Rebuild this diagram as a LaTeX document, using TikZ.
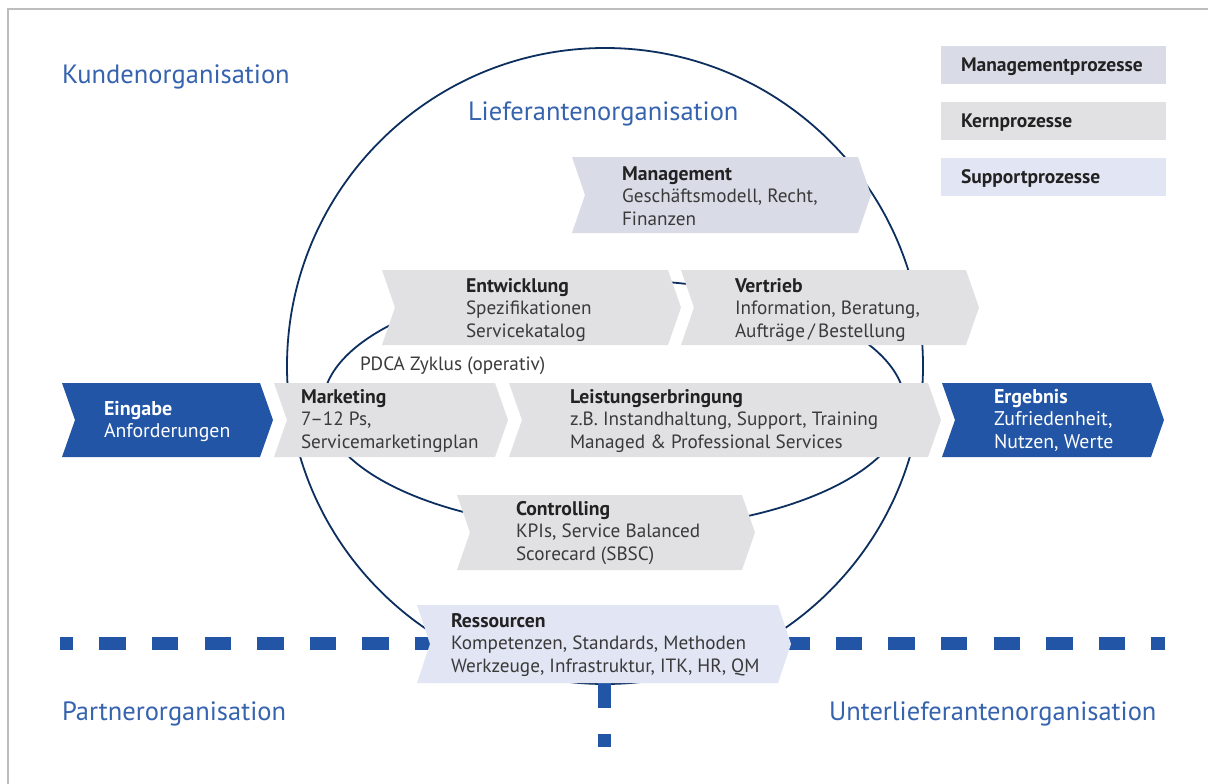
\documentclass[tikz,border=0pt]{standalone}
\usepackage{fontspec}
\setmainfont{PT Sans}
\definecolor{kblue}{HTML}{2255A5}
\definecolor{ttlblue}{HTML}{3563AE}
\definecolor{navy}{HTML}{0C2F5F}
\definecolor{mgmtc}{HTML}{D9DCE7}
\definecolor{kernc}{HTML}{E1E1E3}
\definecolor{suppc}{HTML}{E2E5F4}
\definecolor{framec}{HTML}{BDBDBD}
\definecolor{bodyc}{HTML}{3A3A3A}
\definecolor{headc}{HTML}{222222}
% chevron: left x, top-right x, top y, bottom y, fill colour
\newcommand\chevbox[5]{%
  \fill[#5] (#1,#3) -- (#2,#3) -- ({#2+13},{(#3+#4)/2}) -- (#2,#4) -- (#1,#4)
    -- ({#1+13},{(#3+#4)/2}) -- cycle;}
\newcommand\lines[1]{\begin{tabular}[t]{@{}l@{}}#1\end{tabular}}
\newcommand\hd[1]{{\fontsize{19.7}{22.6}\selectfont\bfseries\color{headc}#1}}
\newcommand\whd[1]{{\fontsize{20}{22.6}\selectfont\bfseries #1}}
\begin{document}
\begin{tikzpicture}[x=1pt,y=-1pt,
  every node/.style={inner sep=0pt,outer sep=0pt},
  boxtext/.style={anchor=base west,font=\fontsize{19.2}{22.6}\selectfont,text=bodyc},
  whitetext/.style={anchor=base west,font=\fontsize{19.8}{22.6}\selectfont,text=white},
  title/.style={anchor=base west,font=\fontsize{26.5}{30}\selectfont,text=ttlblue},
  legend/.style={anchor=base west,font=\fontsize{19.5}{22}\selectfont\bfseries,text=headc},
  orbit/.style={draw=navy,line width=1.8pt},
  divider/.style={draw=kblue,line width=13pt,dash pattern=on 26.3pt off 26.3pt,dash phase=13.15pt},
]
\useasboundingbox (0,0) rectangle (1208,784);
\fill[white] (0,0) rectangle (1208,784);
% frame
\draw[framec,line width=2pt] (8,784) -- (8,9) -- (1208,9);

% supplier organisation and PDCA cycle
\draw[orbit] (605,366) circle[radius=318pt];
\draw[orbit] (614,405) ellipse[x radius=291pt,y radius=125pt];

% organisation borders
\draw[divider] (60,643.5) -- (1165,643.5);
\draw[divider] (604.5,747) -- (604.5,643.5);

% process chevrons
\chevbox{572}{858}{157}{233}{mgmtc}
\chevbox{382}{668}{270}{345}{kernc}
\chevbox{681}{966}{270}{345}{kernc}
\chevbox{62}{260}{383}{457}{kblue}
\chevbox{274}{495}{383}{457}{kernc}
\chevbox{509}{928}{383}{457}{kernc}
\chevbox{942}{1151}{383}{457}{kblue}
\chevbox{457}{742}{495}{570}{kernc}
\chevbox{417}{778}{605}{683}{suppc}

% legend
\fill[mgmtc] (941,46) rectangle (1166,84);
\fill[kernc] (941,102) rectangle (1166,140);
\fill[suppc] (941,158) rectangle (1166,196);
\node[legend] (lg-mgmt) at (961,71) {Managementprozesse};
\node[legend] (lg-kern) at (961,127) {Kernprozesse};
\node[legend] (lg-supp) at (961,183) {Supportprozesse};

% organisation titles
\node[title] (kunde) at (62,84) {Kundenorganisation};
\node[title] (liefer) at (468,121) {Lieferantenorganisation};
\node[title] (partner) at (62,720) {Partnerorganisation};
\node[title] (unterl) at (829,720) {Unterlieferantenorganisation};

% chevron texts
\node[boxtext] (mgmt) at (622,180) {\lines{\hd{Management}\\Geschäftsmodell, Recht,\\Finanzen}};
\node[boxtext] (entw) at (466,292) {\lines{\hd{Entwicklung}\\Spezifikationen\\Servicekatalog}};
\node[boxtext] (vertr) at (735,292) {\lines{\hd{Vertrieb}\\Information, Beratung,\\Aufträge\,/\,Bestellung}};
\node[boxtext] (pdca) at (360,370) {PDCA Zyklus (operativ)};
\node[whitetext] (eing) at (104,415) {\lines{\whd{Eingabe}\\Anforderungen}};
\node[boxtext] (mark) at (301,403) {\lines{\hd{Marketing}\\7–12 Ps,\\Servicemarketingplan}};
\node[boxtext] (leist) at (570,403) {\lines{\hd{Leistungserbringung}\\z.B. Instandhaltung, Support, Training\\Managed \& Professional Services}};
\node[whitetext] (erg) at (994,403) {\lines{\whd{Ergebnis}\\Zufriedenheit,\\Nutzen, Werte}};
\node[boxtext] (contr) at (516,515) {\lines{\hd{Controlling}\\KPIs, Service Balanced\\Scorecard (SBSC)}};
\node[boxtext] (ress) at (451,627) {\lines{\hd{Ressourcen}\\Kompetenzen, Standards, Methoden\\Werkzeuge, Infrastruktur, ITK, HR, QM}};
\end{tikzpicture}
\end{document}
